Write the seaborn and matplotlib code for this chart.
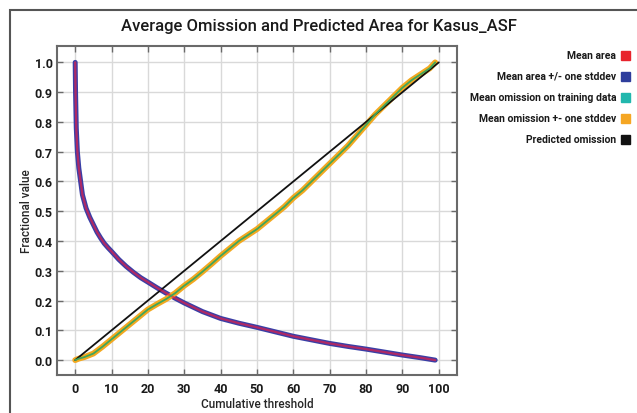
import numpy as np
import pandas as pd
import matplotlib
matplotlib.use("Agg")
import matplotlib.pyplot as plt
from matplotlib.patches import Rectangle
import seaborn as sns

# --- values ---
area_x = [0, 0.1, 0.3, 0.6, 1, 1.5, 2, 3, 4, 5, 6, 7, 8, 9, 10, 12, 14, 16, 18, 20,
          22.5, 25, 27.5, 30, 35, 40, 45, 50, 55, 60, 65, 70, 75, 80, 85, 90, 95, 99]
mean_area = [1.0, 0.9, 0.78, 0.70, 0.645, 0.60, 0.555, 0.51, 0.48, 0.455, 0.43, 0.41,
             0.392, 0.378, 0.365, 0.338, 0.315, 0.295, 0.277, 0.262, 0.243, 0.225, 0.208,
             0.192, 0.163, 0.14, 0.124, 0.11, 0.095, 0.08, 0.068, 0.056, 0.046, 0.037,
             0.027, 0.017, 0.008, 0.0]

omis_x = [0, 1, 2.5, 5, 7.5, 10, 12.5, 15, 17.5, 20, 22.5, 25, 27.5, 30, 32.5, 35,
          37.5, 40, 42.5, 45, 47.5, 50, 52.5, 55, 57.5, 60, 62.5, 65, 67.5, 70,
          72.5, 75, 77.5, 80, 82.5, 85, 87.5, 90, 92.5, 95, 97.5, 99]
mean_omis = [0, 0.005, 0.01, 0.022, 0.045, 0.07, 0.095, 0.12, 0.145, 0.17, 0.188,
             0.205, 0.225, 0.25, 0.272, 0.297, 0.323, 0.35, 0.375, 0.40, 0.42, 0.44,
             0.465, 0.49, 0.515, 0.545, 0.57, 0.60, 0.63, 0.66, 0.69, 0.72, 0.755,
             0.79, 0.825, 0.855, 0.885, 0.915, 0.94, 0.96, 0.98, 1.0]

pred_x = [0, 100]
pred_omis = [0, 1]

legend_labels = ["Mean area", "Mean area +/- one stddev",
                 "Mean omission on training data", "Mean omission +- one stddev",
                 "Predicted omission"]
legend_colors = ["#e8232c", "#2e3d9c", "#21b7ad", "#f5a623", "#111111"]

W, H = 637, 414
sns.set_style("whitegrid")
plt.rcParams["font.family"] = ["Roboto", "DejaVu Sans"]

fig = plt.figure(figsize=(W / 100, H / 100), dpi=100)
ax = fig.add_axes([57 / W, 1 - 376 / H, 400 / W, 329 / H])

area = pd.DataFrame({"x": area_x, "y": mean_area})
omis = pd.DataFrame({"x": omis_x, "y": mean_omis})
pred = pd.DataFrame({"x": pred_x, "y": pred_omis})

# stddev bands drawn as thick strokes under the means
sns.lineplot(data=area, x="x", y="y", ax=ax, color="#3a3fa6", lw=3.6, zorder=3)
sns.lineplot(data=omis, x="x", y="y", ax=ax, color="#f3a81f", lw=4.2, zorder=3)
sns.lineplot(data=pred, x="x", y="y", ax=ax, color="#111111", lw=1.3, zorder=4)
sns.lineplot(data=area, x="x", y="y", ax=ax, color="#e0204a", lw=1.6, alpha=0.7, zorder=5)
sns.lineplot(data=omis, x="x", y="y", ax=ax, color="#3fa65a", lw=1.3, zorder=5)

ax.set_xlim(-5, 105)
ax.set_ylim(-0.05, 1.055)
ax.set_xticks(range(0, 101, 10))
ax.set_yticks(np.arange(0, 1.01, 0.1))
ax.set_yticklabels([f"{v:.1f}" for v in np.arange(0, 1.01, 0.1)])
ax.grid(True, color="#d9d9d9", lw=1)
for s in ax.spines.values():
    s.set_visible(True)
    s.set_color("#6a6a6a")
    s.set_linewidth(1.5)
ax.tick_params(direction="in", length=4, width=1, color="#6a6a6a",
               top=True, right=True, bottom=True, left=True,
               labelsize=9, pad=3)
ax.tick_params(axis="x", pad=5)
for lab in ax.get_xticklabels() + ax.get_yticklabels():
    lab.set_fontweight("bold")
    lab.set_color("#1a1a1a")
ax.set_xlabel("Cumulative threshold", fontsize=8.5, fontweight="medium")
ax.set_ylabel("Fractional value", fontsize=8.5, fontweight="medium")
ax.xaxis.set_label_coords(0.5, -(398 - 376) / 329)
ax.yaxis.set_label_coords(-(57 - 33) / 400, 0.5)

fig.text(0.5, 1 - 27 / H, "Average Omission and Predicted Area for Kasus_ASF",
         ha="center", va="center", fontsize=12, fontweight="medium", color="#1a1a1a")

# legend at right: text right-aligned, square swatch after it
for i, (lab, col) in enumerate(zip(legend_labels, legend_colors)):
    yy = 1 - (56 + i * 21) / H
    fig.text(616 / W, yy, lab, ha="right", va="center", fontsize=7.5,
             fontweight="bold", color="#1a1a1a")
    fig.patches.append(Rectangle((621 / W, yy - 4.5 / H), 9 / W, 9 / H,
                                 transform=fig.transFigure, color=col))

# outer frame of the figure (open at right/bottom like the cropped original)
fig.patches.append(Rectangle((10 / W, -0.2), 2, 1.2 - 11 / H, transform=fig.transFigure,
                             fill=False, ec="#555555", lw=1.5))

fig.savefig("out.png", dpi=100)
